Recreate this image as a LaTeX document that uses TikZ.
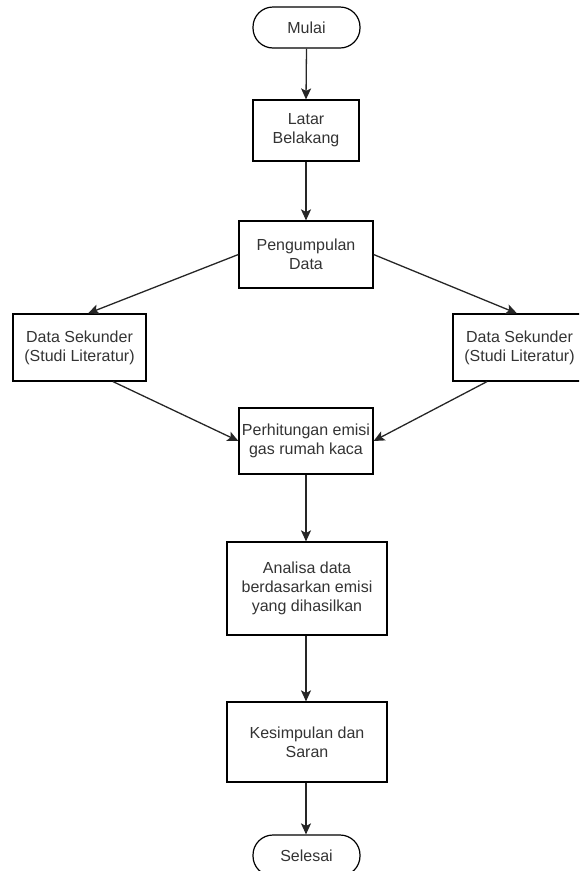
\documentclass[tikz,border=0pt]{standalone}
\usepackage{fontspec}
\setmainfont{Liberation Sans}
\usetikzlibrary{arrows.meta}
\definecolor{txt}{HTML}{333333}
\tikzset{
  base/.style={draw=black, line width=1.2pt, inner sep=0pt, align=center,
    font=\fontsize{16}{19}\selectfont, text=txt},
  procbox/.style={base, rectangle},
  termbox/.style={base, rectangle, rounded corners=20pt, minimum width=107pt, minimum height=41pt},
  conn/.style={draw=black!85, line width=1.3pt, -{Stealth[length=11pt,width=10pt,inset=2.5pt]}}
}
\begin{document}
\begin{tikzpicture}[x=1pt,y=-1pt]
\useasboundingbox (0,0) rectangle (579,871);
\clip (0,0) rectangle (579,871);
\node[termbox] (mulai) at (306.5,27.5) {Mulai};
\node[procbox, minimum width=106pt, minimum height=61pt] (latar) at (306,130.5) {Latar\\Belakang};
\node[procbox, minimum width=134pt, minimum height=67pt] (peng) at (306,254.5) {Pengumpulan\\Data};
\node[procbox, minimum width=133pt, minimum height=67pt] (dsL) at (79.5,347.5) {Data Sekunder\\(Studi Literatur)};
\node[procbox, minimum width=133pt, minimum height=67pt] (dsR) at (519.5,347.5) {Data Sekunder\\(Studi Literatur)};
\node[procbox, minimum width=134pt, minimum height=66pt] (perh) at (306,441) {Perhitungan emisi\\gas rumah kaca};
\node[procbox, minimum width=160pt, minimum height=93pt] (anal) at (307,588.5) {Analisa data\\berdasarkan emisi\\yang dihasilkan};
\node[procbox, minimum width=160pt, minimum height=80pt] (kes) at (307,742) {Kesimpulan dan\\Saran};
\node[termbox] (selesai) at (306.5,855.5) {Selesai};

\draw[conn] (mulai.south) -- (latar.north);
\draw[conn] (latar.south) -- (peng.north);
\draw[conn] (peng.west) -- ([xshift=8.5pt]dsL.north);
\draw[conn] (peng.east) -- ([xshift=-2.5pt]dsR.north);
\draw[conn] ([xshift=33.5pt]dsL.south) -- (perh.west);
\draw[conn] ([xshift=-32.5pt]dsR.south) -- (perh.east);
\draw[conn] (perh.south) -- ([xshift=-1pt]anal.north);
\draw[conn] ([xshift=-1pt]anal.south) -- ([xshift=-1pt]kes.north);
\draw[conn] ([xshift=-1pt]kes.south) -- ([xshift=-0.5pt]selesai.north);
\end{tikzpicture}
\end{document}
